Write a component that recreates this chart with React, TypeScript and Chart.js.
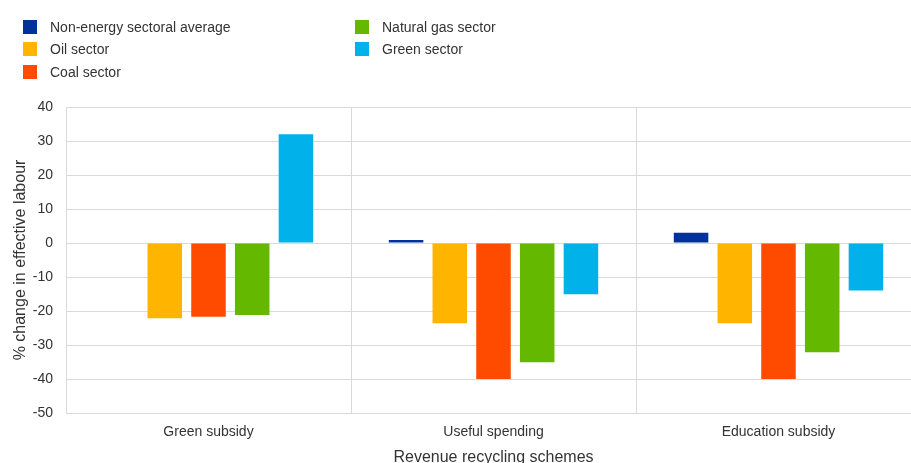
import React, { useEffect, useRef } from "react";
import { Chart, registerables } from "chart.js";

Chart.register(...registerables);

const categories = ["Green subsidy", "Useful spending", "Education subsidy"];
const seriesNames = [
  "Non-energy sectoral average",
  "Oil sector",
  "Coal sector",
  "Natural gas sector",
  "Green sector",
];
const nonEnergy = [0, 0.9, 3.0];
const oil = [-22.1, -23.6, -23.6];
const coal = [-21.7, -40, -40];
const gas = [-21.2, -35.1, -32.1];
const green = [32.0, -15.1, -14.0];
const colors = ["#003299", "#ffb400", "#ff4b00", "#65b800", "#00b1ea"];
const yTicks = { min: -50, max: 40, step: 10 };

const FONT = "'Liberation Sans', Arial, sans-serif";
const TEXT = "#333333";

export default function App() {
  const ref = useRef<HTMLCanvasElement | null>(null);

  useEffect(() => {
    document.body.style.margin = "0";
    document.documentElement.style.overflow = "hidden";
    const values = [nonEnergy, oil, coal, gas, green];
    const chart = new Chart(ref.current!, {
      type: "bar",
      data: {
        labels: categories,
        datasets: seriesNames.map((n, i) => ({
          label: n,
          data: values[i],
          backgroundColor: colors[i],
          borderWidth: 0,
          categoryPercentage: 0.767,
          barPercentage: 0.79,
        })),
      },
      options: {
        responsive: false,
        animation: false,
        devicePixelRatio: 1,
        layout: { padding: { top: 107, right: 9, left: 0, bottom: 0 } },
        plugins: { legend: { display: false }, tooltip: { enabled: false } },
        scales: {
          x: {
            grid: { offset: true, color: "#d9d9d9", drawTicks: false },
            border: { display: false },
            ticks: { color: TEXT, font: { family: FONT, size: 14 }, padding: 11 },
            title: {
              display: true,
              text: "Revenue recycling schemes",
              color: TEXT,
              font: { family: FONT, size: 16 },
              padding: { top: 0, bottom: 0 },
            },
            afterFit: (s: any) => {
              s.height = 54;
            },
          },
          y: {
            min: yTicks.min,
            max: yTicks.max,
            grid: { color: "#d9d9d9", drawTicks: false },
            border: { display: false },
            ticks: {
              stepSize: yTicks.step,
              color: TEXT,
              font: { family: FONT, size: 14 },
              padding: 13,
            },
            title: {
              display: true,
              text: "% change in effective labour",
              color: TEXT,
              font: { family: FONT, size: 16 },
              padding: { top: 10.5, bottom: 0 },
            },
            afterFit: (s: any) => {
              s.width = 66;
            },
          },
        },
      },
    });
    return () => chart.destroy();
  }, []);

  const legendPos = [
    { x: 23, y: 20 },
    { x: 23, y: 42 },
    { x: 23, y: 65 },
    { x: 355, y: 20 },
    { x: 355, y: 42 },
  ];

  return (
    <div style={{ position: "fixed", left: 0, top: 0, width: 911, height: 463, overflow: "hidden", background: "#fff" }}>
      <canvas ref={ref} width={930} height={467} style={{ position: "absolute", left: 0, top: 0, width: 930, height: 467 }} />
      {seriesNames.map((n, i) => (
        <div key={n} style={{ position: "absolute", left: legendPos[i].x, top: legendPos[i].y, height: 14, display: "flex", alignItems: "center", whiteSpace: "nowrap" }}>
          <span style={{ display: "inline-block", width: 14, height: 14, background: colors[i] }} />
          <span style={{ marginLeft: 13, fontFamily: FONT, fontSize: 14, color: TEXT, lineHeight: "14px" }}>{n}</span>
        </div>
      ))}
    </div>
  );
}
